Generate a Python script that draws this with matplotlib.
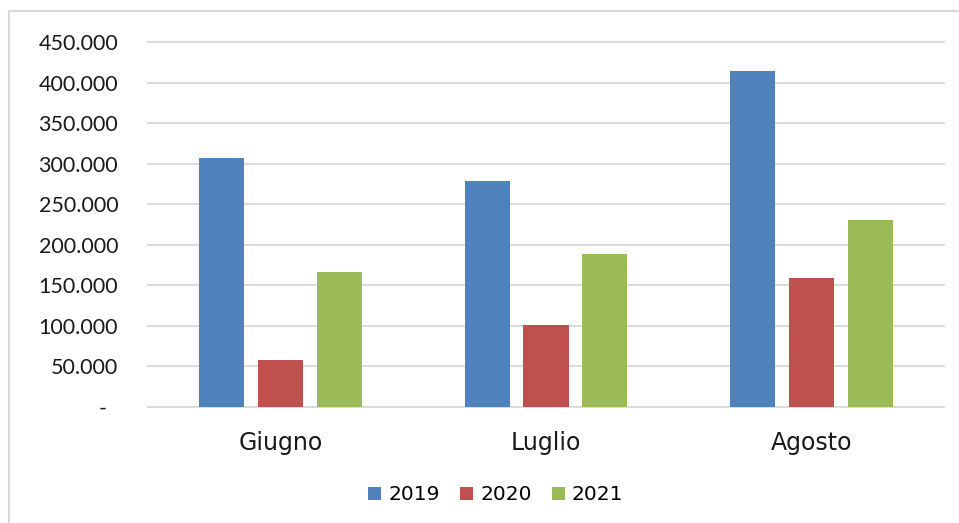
import matplotlib.pyplot as plt
import matplotlib.patches as patches
import numpy as np

mesi = ['Giugno', 'Luglio', 'Agosto']
anni = ['2019', '2020', '2021']
v2019 = [307000, 279000, 414000]
v2020 = [58000, 101000, 159000]
v2021 = [166000, 189000, 230000]
colori = ['#4F81BD', '#C0504D', '#9BBB59']

plt.rcParams['font.family'] = ['DejaVu Sans']

fig = plt.figure(figsize=(9.59, 5.23), dpi=100)
ax = fig.add_axes([148/959, 1-407/523, 796/959, 365/523])

x = np.arange(len(mesi))
w = 0.17
step = 0.222
for i, (vals, lab) in enumerate(zip([v2019, v2020, v2021], anni)):
    ax.bar(x + (i-1)*step, vals, width=w, color=colori[i], label=lab, zorder=3)

ax.set_xlim(-0.5, 2.5)
ax.set_ylim(0, 450000)
yt = np.arange(0, 450001, 50000)
ax.set_yticks(yt)
ax.set_yticklabels(['-  '] + [f'{v:,}'.replace(',', '.') for v in yt[1:]],
                   family=['Lato', 'DejaVu Sans'])
ax.set_xticks(x)
ax.set_xticklabels(mesi)
ax.grid(axis='y', color='#d9d9d9', lw=1.3, zorder=0)
for gl in ax.get_ygridlines():
    gl.set_clip_on(False)
for s in ax.spines.values():
    s.set_visible(False)
ax.tick_params(length=0, colors='#1a1a1a')
ax.tick_params(axis='y', labelsize=15.5, pad=21.5)
ax.tick_params(axis='x', labelsize=17, pad=17)

leg = ax.legend(loc='upper center', bbox_to_anchor=(0.437, -0.165), ncol=3, frameon=False,
                fontsize=14.5, handlelength=0.65, handleheight=0.65, handletextpad=0.35,
                columnspacing=1.0)

fig.patches.append(patches.Rectangle((9/959, -0.1), 1.2, 1.1 - 11/523, fill=False,
                                     edgecolor='#d9d9d9', lw=1.5, transform=fig.transFigure))

fig.savefig('out.png', dpi=100)
